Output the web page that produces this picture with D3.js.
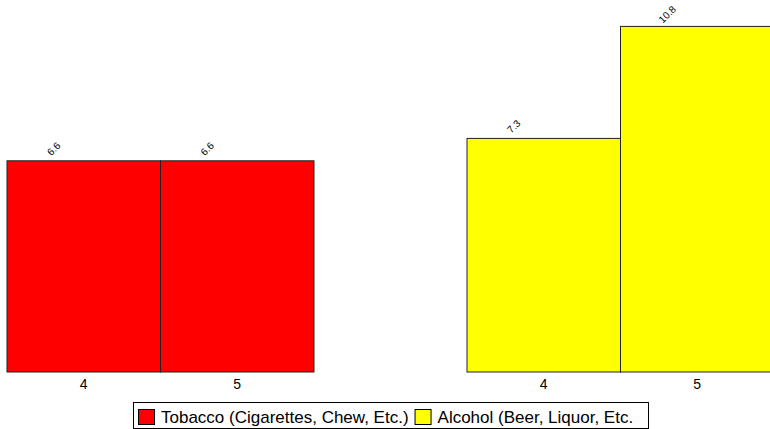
<!DOCTYPE html>
<html>
<head>
<meta charset="utf-8">
<script src="https://cdn.jsdelivr.net/npm/d3@7"></script>
<style>
  html, body { margin: 0; padding: 0; background: #fff; }
  svg { display: block; font-family: "Liberation Sans", Arial, sans-serif; }
</style>
</head>
<body>
<svg id="chart" width="770" height="429"></svg>
<script>
const groups = ["Tobacco (Cigarettes, Chew, Etc.)", "Alcohol (Beer, Liquor, Etc."];
const categories = ["4", "5"];
const tobaccoValues = [6.6, 6.6];
const alcoholValues = [7.3, 10.8];
const colors = ["#ff0000", "#ffff00"];

const series = [tobaccoValues, alcoholValues];
const svg = d3.select("#chart");

const baseline = 372;
const y = d3.scaleLinear().domain([0, 12]).range([baseline, baseline - 384]);

const x0 = d3.scaleBand().domain(groups).range([7, 774]).paddingInner(2 - 767 / 460).paddingOuter(0);
const x1 = d3.scaleBand().domain(categories).range([0, x0.bandwidth()]);

groups.forEach((g, gi) => {
  const gEl = svg.append("g").attr("transform", `translate(${x0(g)},0)`);
  categories.forEach((c, ci) => {
    const v = series[gi][ci];
    const bx = x1(c), bw = x1.bandwidth();
    gEl.append("rect")
      .attr("x", bx).attr("y", y(v))
      .attr("width", bw).attr("height", baseline - y(v))
      .attr("fill", colors[gi])
      .attr("stroke", "#222").attr("stroke-width", 1);
    const lx = bx + bw / 2 - 30, ly = y(v) - 12;
    gEl.append("text")
      .attr("transform", `translate(${lx},${ly}) rotate(-45)`)
      .attr("text-anchor", "middle")
      .attr("dominant-baseline", "central")
      .attr("font-size", 10)
      .attr("fill", "#000")
      .text(v);
    gEl.append("text")
      .attr("x", bx + bw / 2).attr("y", 389)
      .attr("text-anchor", "middle")
      .attr("font-size", 14)
      .attr("fill", "#000")
      .text(c);
  });
});

// Legend
const legend = svg.append("g");
legend.append("rect")
  .attr("x", 133.5).attr("y", 402.5).attr("width", 515).attr("height", 26)
  .attr("fill", "#fff").attr("stroke", "#000").attr("stroke-width", 1);
let lxPos = 138;
groups.forEach((g, gi) => {
  legend.append("rect")
    .attr("x", lxPos + 0.5).attr("y", 409.5).attr("width", 16).attr("height", 15)
    .attr("fill", colors[gi]).attr("stroke", "#000").attr("stroke-width", 1);
  const t = legend.append("text")
    .attr("x", lxPos + 23).attr("y", 423)
    .attr("font-size", 17).attr("fill", "#000")
    .text(g);
  lxPos = lxPos + 23 + t.node().getComputedTextLength() + 6;
});
</script>
</body>
</html>
